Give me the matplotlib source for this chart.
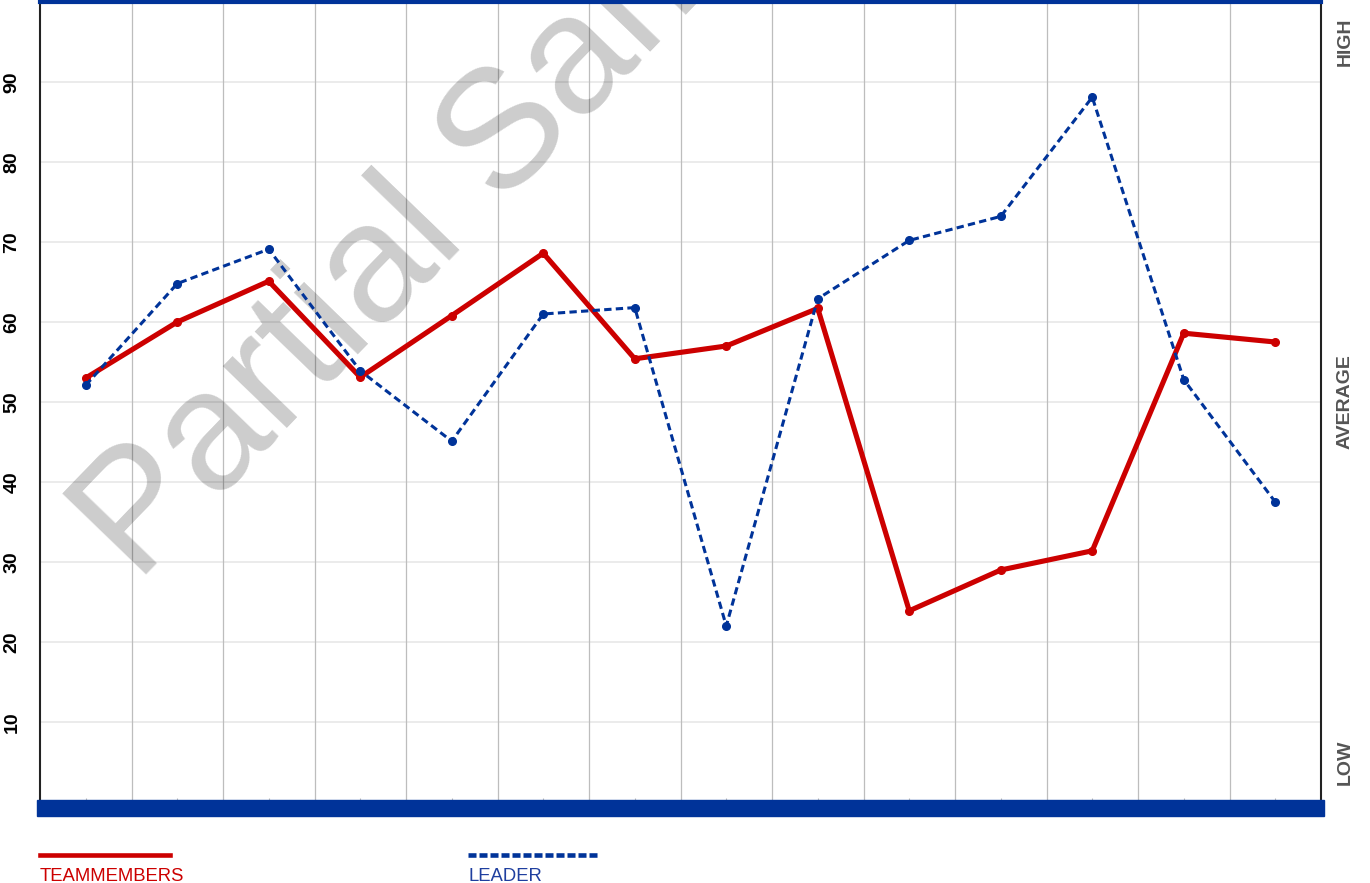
import matplotlib
matplotlib.use("Agg")
import matplotlib.pyplot as plt
from matplotlib.lines import Line2D
from matplotlib.patches import Rectangle
import matplotlib.transforms as mtransforms

plt.rcParams['font.family'] = ['Liberation Sans', 'DejaVu Sans']

# ---- data ----
categories = [f"Item {i}" for i in range(1, 15)]
teammembers = [53.0, 60.0, 65.1, 53.1, 60.8, 68.6, 55.4, 57.0, 61.7, 23.9, 29.0, 31.4, 58.6, 57.5]
leader = [52.1, 64.8, 69.1, 53.9, 45.1, 61.0, 61.8, 22.0, 62.9, 70.2, 73.2, 88.1, 52.8, 37.5]
y_ticks = [10, 20, 30, 40, 50, 60, 70, 80, 90]
scale_labels = ["HIGH", "AVERAGE", "LOW"]
scale_positions = [95, 50, 5]
series_names = ["TEAMMEMBERS", "LEADER"]

RED = "#cc0000"
BLUE = "#003399"

W, H = 1370, 883
fig = plt.figure(figsize=(W / 100, H / 100), dpi=100)
ax = fig.add_axes([40 / W, 1 - 802 / H, 1281 / W, 800 / H])

x = list(range(len(categories)))
ax.set_xlim(-0.5, len(categories) - 0.5)
ax.set_ylim(0, 100)

# grid
for b in range(len(categories) - 1):
    ax.axvline(b + 0.5, color="#bdbdbd", lw=0.9, zorder=1)
ax.set_yticks(y_ticks)
ax.yaxis.grid(True, color="#e6e6e6", lw=1.1, zorder=1)
ax.set_axisbelow(True)
ax.set_xticks(x)
ax.set_xticklabels([])
ax.tick_params(axis="x", length=3, color="#bbbbbb", direction="in")
ax.tick_params(axis="y", length=0, pad=14)
for lab in ax.get_yticklabels():
    lab.set_rotation(90)
    lab.set_fontweight("bold")
    lab.set_fontsize(14)
    lab.set_va("center")
    lab.set_color("#000000")

# spines
ax.spines["left"].set_color("#222222")
ax.spines["left"].set_linewidth(1.5)
ax.spines["right"].set_color("#222222")
ax.spines["right"].set_linewidth(1.5)
ax.spines["top"].set_color(BLUE)
ax.spines["top"].set_linewidth(3.0)
ax.spines["bottom"].set_visible(False)

# watermark (between grid and lines)
ax.text(137 / W, 1 - 584 / H, "Partial Sample", transform=fig.transFigure,
        fontsize=121, color="black", alpha=0.2, rotation=46,
        rotation_mode="anchor", ha="left", va="baseline", zorder=2,
        clip_on=False)

# series
ax.plot(x, teammembers, color=RED, lw=3.7, marker="o", ms=5.5,
        solid_capstyle="round", zorder=4)
ax.plot(x, leader, color=BLUE, lw=2.2, ls=(0, (2.4, 1.4)), marker="o", ms=5.5,
        zorder=5)

# right side scale labels
trans = mtransforms.blended_transform_factory(ax.transAxes, ax.transData)
for lab, pos in zip(scale_labels, scale_positions):
    ax.text(1.0 + 24 / 1281, pos, lab, transform=trans, rotation=90,
            ha="center", va="center", fontsize=14, fontweight="bold",
            color="#555555")

# bottom blue bar
fig.patches.append(Rectangle((37 / W, 1 - 816 / H), (1324 - 37) / W, 16 / H,
                             transform=fig.transFigure, color=BLUE, zorder=3))

# legend
fig.lines.append(Line2D([40 / W, 170 / W], [1 - 854.5 / H] * 2,
                        transform=fig.transFigure, color=RED, lw=3.3))
fig.lines.append(Line2D([468 / W, 600 / W], [1 - 854.5 / H] * 2,
                        transform=fig.transFigure, color=BLUE, lw=3.3,
                        ls=(0, (1.75, 0.65))))
fig.text(40 / W, 1 - 881 / H, series_names[0], color=RED, fontsize=13.3,
         ha="left", va="baseline")
fig.text(468 / W, 1 - 881 / H, series_names[1], color="#1f3f9f", fontsize=13.3,
         ha="left", va="baseline")

fig.savefig("out.png", dpi=100)
